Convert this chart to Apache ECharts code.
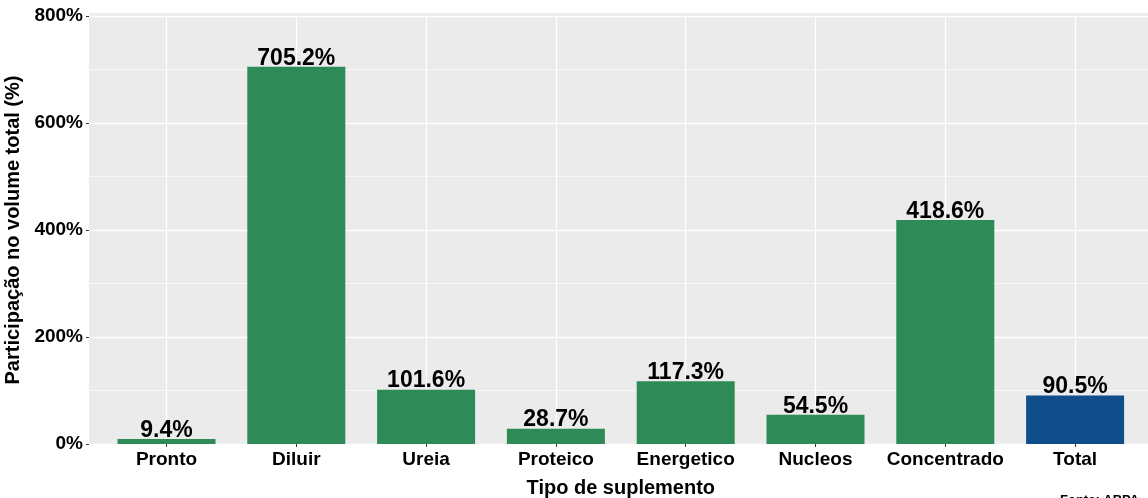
<!DOCTYPE html>
<html>
<head>
<meta charset="utf-8">
<script src="https://cdn.jsdelivr.net/npm/echarts@6/dist/echarts.min.js"></script>
<style>
  html, body { margin: 0; padding: 0; background: #fff; }
  #chart { width: 1148px; height: 498px; }
</style>
</head>
<body>
<div id="chart"></div>
<script>
// dados
var categorias = ["Pronto", "Diluir", "Ureia", "Proteico", "Energetico", "Nucleos", "Concentrado", "Total"];
var participacao = [9.4, 705.2, 101.6, 28.7, 117.3, 54.5, 418.6, 90.5];
var yTicks = [0, 200, 400, 600, 800];

var verde = "#2E8B57";
var azul = "#104E8B";
var fonte = "'Liberation Sans', Arial, Helvetica, sans-serif";

var myChart = echarts.init(document.getElementById("chart"));

var barData = participacao.map(function (v, i) {
  return {
    value: v,
    itemStyle: { color: categorias[i] === "Total" ? azul : verde },
  };
});

var option = {
  animation: false,
  textStyle: { fontFamily: fonte },
  graphic: [
    // faixa de cima do painel (expansao do ggplot)
    { type: "rect", z: -1, shape: { x: 89, y: 13, width: 1070, height: 3 }, style: { fill: "#EBEBEB" } },
    {
      type: "text",
      left: 1060,
      top: 494,
      style: { text: "Fonte: ABPA", font: "bold 13px " + fonte, fill: "#000" },
    },
  ],
  grid: [
    { left: 89, right: -5, top: 16, bottom: 54, show: true, backgroundColor: "#EBEBEB", borderWidth: 0, outerBoundsMode: "none" },
    { left: 101.6, right: 8, top: 16, bottom: 54, outerBoundsMode: "none" },
  ],
  xAxis: [
    { type: "value", gridIndex: 0, show: false, min: 0, max: 1 },
    {
      type: "category",
      gridIndex: 1,
      data: categorias,
      name: "Tipo de suplemento",
      nameLocation: "middle",
      nameGap: 34,
      nameTextStyle: { fontSize: 20, fontWeight: "bold", color: "#000", fontFamily: fonte },
      axisLine: { show: false },
      axisTick: { show: true, interval: 0, alignWithLabel: true, length: 3, lineStyle: { color: "#333" } },
      axisLabel: { interval: 0, fontSize: 19, fontWeight: "bold", color: "#000", margin: 6, fontFamily: fonte },
      splitLine: { show: true, interval: 0, alignWithLabel: true, lineStyle: { color: "#fff", width: 1.2 } },
    },
  ],
  yAxis: [
    {
      type: "value",
      gridIndex: 0,
      min: 0,
      max: 800,
      interval: 200,
      name: "Participação no volume total (%)",
      nameLocation: "middle",
      nameGap: 62,
      nameTextStyle: { fontSize: 20, fontWeight: "bold", color: "#000", fontFamily: fonte },
      axisLine: { show: false },
      axisTick: { show: true, length: 3, lineStyle: { color: "#333" } },
      axisLabel: {
        fontSize: 19,
        fontWeight: "bold",
        color: "#000",
        margin: 6,
        fontFamily: fonte,
        formatter: function (v) {
          return yTicks.indexOf(v) >= 0 ? v + "%" : "";
        },
      },
      splitLine: { show: true, lineStyle: { color: "#fff", width: 1.3 } },
      minorTick: { show: false, splitNumber: 2 },
      minorSplitLine: { show: true, lineStyle: { color: "#fff", width: 0.6 } },
    },
    { type: "value", gridIndex: 1, min: 0, max: 800, show: false },
  ],
  series: [
    {
      type: "bar",
      xAxisIndex: 1,
      yAxisIndex: 1,
      data: barData,
      barWidth: "75.5%",
      label: {
        show: true,
        position: "top",
        distance: -3,
        fontSize: 23,
        fontWeight: "bold",
        color: "#000",
        fontFamily: fonte,
        formatter: function (p) {
          return p.value.toFixed(1) + "%";
        },
      },
    },
  ],
};

myChart.setOption(option);
</script>
</body>
</html>
